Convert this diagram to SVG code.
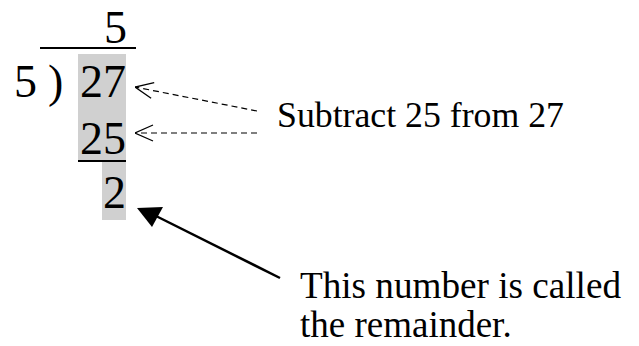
<svg xmlns="http://www.w3.org/2000/svg" width="639" height="346" viewBox="0 0 639 346">
<style>
.num{font-family:"Liberation Serif","Times New Roman",serif;font-size:46px;fill:#000}
.lbl{font-family:"Liberation Serif","Times New Roman",serif;font-size:36px;fill:#000}
.big{font-size:37px}
.dash{stroke:#000;stroke-width:1.2;stroke-dasharray:6,4;fill:none}
.hl{fill:#d0d0d0}
</style>
<defs>
<marker id="open" viewBox="0 0 20 20" refX="20" refY="10" markerWidth="20" markerHeight="20" markerUnits="userSpaceOnUse" orient="auto">
<path d="M2,2 L20,10 L2,18" fill="none" stroke="#000" stroke-width="1.3"/>
</marker>
</defs>
<rect width="639" height="346" fill="#fff"/>
<g id="division">
<rect class="hl" x="78" y="54" width="48" height="106"/>
<rect class="hl" x="102" y="162" width="24" height="58"/>
<text class="num" x="127" y="43" text-anchor="end">5</text>
<line x1="40" y1="48" x2="136" y2="48" stroke="#000" stroke-width="2"/>
<text class="num" x="14" y="97">5</text>
<text class="num" x="48" y="97">)</text>
<text class="num" x="126" y="97" text-anchor="end">27</text>
<text class="num" x="126" y="154" text-anchor="end">25</text>
<line x1="78" y1="161" x2="126" y2="161" stroke="#000" stroke-width="2"/>
<text class="num" x="126" y="208" text-anchor="end">2</text>
</g>
<g id="label-subtract">
<text class="lbl" x="277" y="127" textLength="287" lengthAdjust="spacingAndGlyphs">Subtract 25 from 27</text>
</g>
<g id="label-remainder">
<text class="lbl big" x="300" y="298" textLength="321" lengthAdjust="spacingAndGlyphs">This number is called</text>
<text class="lbl big" x="300" y="337">the remainder.</text>
</g>
<g id="connectors">
<line class="dash" x1="257" y1="111" x2="135" y2="87" marker-end="url(#open)"/>
<line class="dash" x1="257" y1="133" x2="135" y2="133" marker-end="url(#open)"/>
<line x1="280" y1="278" x2="156" y2="216" stroke="#000" stroke-width="2.5"/>
<polygon points="137,208 163,207 152,227" fill="#000"/>
</g>
</svg>
